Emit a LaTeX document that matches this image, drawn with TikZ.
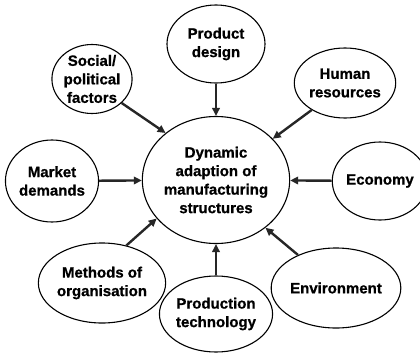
\documentclass[tikz,border=0pt]{standalone}
\usepackage{fontspec}
\setmainfont{Liberation Sans}[BoldFeatures={FakeBold=0.8}]
\usetikzlibrary{shapes.geometric,arrows.meta}
\begin{document}
\begin{tikzpicture}[x=1pt,y=-1pt,
  bubble/.style={ellipse,draw=black,line width=1.1pt,inner sep=0pt,align=center,
    font=\fontsize{15}{18.5}\selectfont\bfseries},
  conn/.style={line width=2.4pt,-{Triangle[length=8pt,width=7.5pt]},black!85}]
\useasboundingbox (0,0) rectangle (420,356);
\node[bubble,minimum width=128pt,minimum height=127pt] (c) at (216,180) {Dynamic\\adaption of\\manufacturing\\structures};
\node[bubble,minimum width=98pt,minimum height=78pt] (prod) at (216,44) {Product\\design};
\node[bubble,minimum width=75pt,minimum height=69pt] (soc) at (92,79) {Social/\\political\\factors};
\node[bubble,minimum width=86pt,minimum height=70pt] (hum) at (345,83) {Human\\resources};
\node[bubble,minimum width=86pt,minimum height=82pt] (mkt) at (52,181) {Market\\demands};
\node[bubble,minimum width=76pt,minimum height=78pt] (eco) at (380,181) {Economy};
\node[bubble,minimum width=100pt,minimum height=80pt] (meth) at (102,283) {Methods of\\organisation};
\node[bubble,minimum width=98pt,minimum height=76pt] (ptech) at (216,314) {Production\\technology};
\node[bubble,minimum width=102pt,minimum height=80pt] (env) at (336,288) {Environment};
\draw[conn] (prod) -- (c);
\draw[conn] (soc.-39) -- (c.137);
\draw[conn] (hum.-141) -- (c.36);
\draw[conn] (mkt) -- (c);
\draw[conn] (eco) -- (c);
\draw[conn] (meth.57) -- (c.-147);
\draw[conn] (ptech) -- (c);
\draw[conn] (env.139) -- (c.-44);
\end{tikzpicture}
\end{document}
